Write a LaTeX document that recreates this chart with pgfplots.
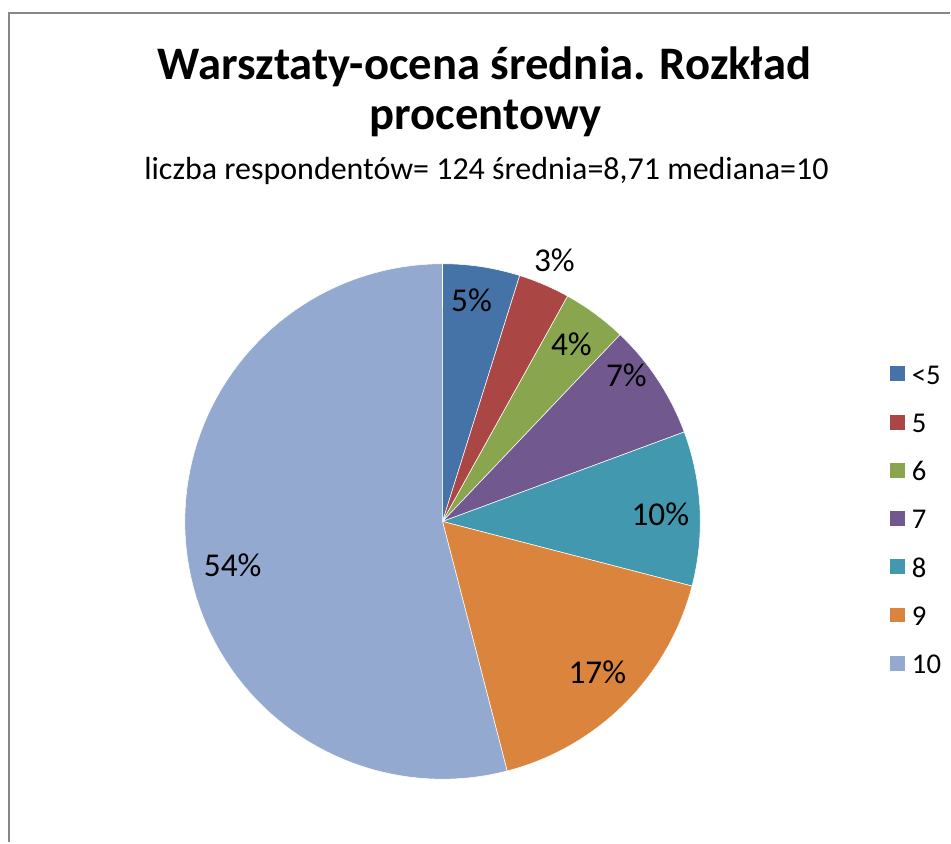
\documentclass[border=0pt]{standalone}
\usepackage{pgfplots}
\pgfplotsset{compat=1.18}
\usepackage{fontspec}
\setmainfont{Carlito}
\definecolor{c1}{HTML}{4572A7}
\definecolor{c2}{HTML}{AA4643}
\definecolor{c3}{HTML}{89A54E}
\definecolor{c4}{HTML}{71588F}
\definecolor{c5}{HTML}{4198AF}
\definecolor{c6}{HTML}{DB843D}
\definecolor{c7}{HTML}{93A9CF}
\definecolor{frame}{HTML}{878787}
% counts of respondents (n=124): <5:6, 5:4, 6:5, 7:9, 8:12, 9:21, 10:67
% slice boundaries in degrees (clockwise from 12 o'clock) = cumulative count * 360/124
\newcommand{\slice}[3]{\addplot[fill=#3, draw=white, line width=0.4pt, domain=#1:#2, samples=90, variable=\t]
  ({443+258*sin(t)}, {522-258*cos(t)}) -- (axis cs:443,522) -- cycle;}
\begin{document}
\begin{tikzpicture}
\begin{axis}[
  hide axis, scale only axis,
  width=713.25pt, height=632.25pt,
  xmin=0, xmax=951, ymin=0, ymax=843,
  y dir=reverse, clip=false,
  legend cell align=left,
  legend style={at={(axis cs:887,361)}, anchor=north west, draw=none, fill=none,
    font=\fontsize{21.5}{25}\selectfont, row sep=20.7pt,
    nodes={inner sep=0pt, text height=15.5pt, text depth=0pt},
    /tikz/every odd column/.style={column sep=5pt}},
  legend image code/.code={\fill[#1, draw=none] (0pt,-5.6pt) rectangle (11.25pt,5.6pt);},
]
\path (axis cs:0,0) rectangle (axis cs:951,843);
\slice{0}{17.419}{c1}\addlegendentry{<5}
\slice{17.419}{29.032}{c2}\addlegendentry{5}
\slice{29.032}{43.548}{c3}\addlegendentry{6}
\slice{43.548}{69.677}{c4}\addlegendentry{7}
\slice{69.677}{104.516}{c5}\addlegendentry{8}
\slice{104.516}{165.484}{c6}\addlegendentry{9}
\slice{165.484}{360}{c7}\addlegendentry{10}
\draw[frame, line width=1.5pt] (axis cs:9,843) -- (axis cs:9,13) -- (axis cs:951,13);
\node[anchor=base, font=\bfseries\fontsize{35}{40}\selectfont] at (axis cs:485,80) {Warsztaty-ocena średnia. Rozkład};
\node[anchor=base, font=\bfseries\fontsize{35}{40}\selectfont] at (axis cs:486,130) {procentowy};
\node[anchor=base, font=\fontsize{24}{28}\selectfont] at (axis cs:487,180) {liczba respondentów= 124 średnia=8,71 mediana=10};
\begin{scope}[every node/.style={font=\fontsize{25}{30}\selectfont}]
\node at (axis cs:472,301) {5\%};
\node at (axis cs:555,261) {3\%};
\node at (axis cs:572,345) {4\%};
\node at (axis cs:627,376) {7\%};
\node at (axis cs:661,515) {10\%};
\node at (axis cs:598,673) {17\%};
\node at (axis cs:233,566) {54\%};
\end{scope}
\end{axis}
\end{tikzpicture}
\end{document}
